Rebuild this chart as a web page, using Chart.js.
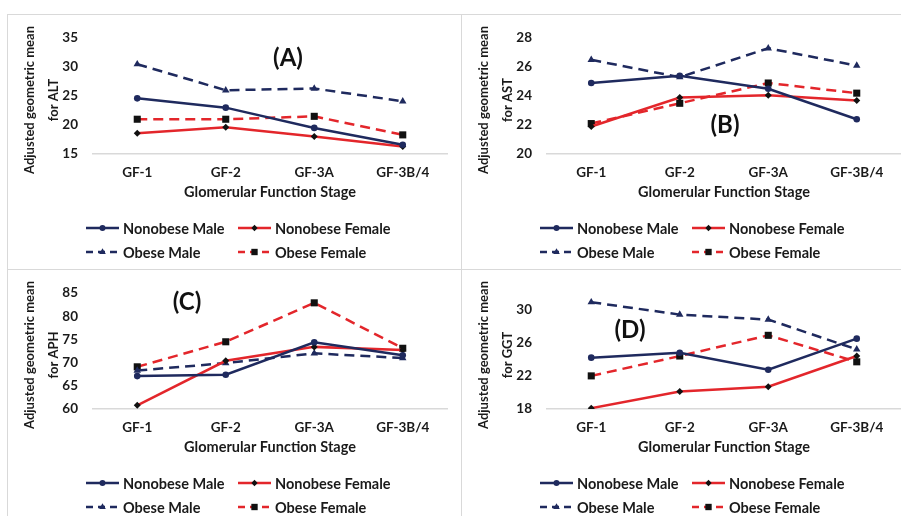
<!DOCTYPE html>
<html lang="en">

<head>
    <meta charset="UTF-8">
    <title>Adjusted geometric means by glomerular function stage</title>
    <style>
        body { margin: 0; width: 901px; height: 516px; overflow: hidden; background: #fff; position: relative; }
        .panel { position: absolute; width: 453px; height: 254px; }
        .line { position: absolute; background: #d9d9d9; }
    </style>
</head>

<body>
    <!-- light gray frame between the four panels -->
    <div class="line" style="left:7px; top:14px; width:894px; height:1px;"></div>
    <div class="line" style="left:7px; top:14px; width:1px; height:502px;"></div>
    <div class="line" style="left:461px; top:14px; width:1px; height:502px;"></div>
    <div class="line" style="left:7px; top:269px; width:894px; height:1px;"></div>

    <div class="panel" style="left:8px; top:15px;"><canvas id="altChart" width="453" height="254"></canvas></div>
    <div class="panel" style="left:462px; top:15px;"><canvas id="astChart" width="453" height="254"></canvas></div>
    <div class="panel" style="left:8px; top:270px;"><canvas id="aphChart" width="453" height="254"></canvas></div>
    <div class="panel" style="left:462px; top:270px;"><canvas id="ggtChart" width="453" height="254"></canvas></div>

    <script src="https://cdn.jsdelivr.net/npm/chart.js"></script>
    <script>
        // categories and series names
        const stages = ['GF-1', 'GF-2', 'GF-3A', 'GF-3B/4'];
        const seriesNames = ['Nonobese Male', 'Nonobese Female', 'Obese Male', 'Obese Female'];

        // (A) ALT
        const altNonobeseMale = [24.6, 23.0, 19.5, 16.6];
        const altNonobeseFemale = [18.6, 19.6, 18.0, 16.3];
        const altObeseMale = [30.5, 26.0, 26.3, 24.1];
        const altObeseFemale = [21.0, 21.0, 21.5, 18.3];
        const altTicks = [15, 20, 25, 30, 35];

        // (B) AST
        const astNonobeseMale = [24.9, 25.4, 24.5, 22.4];
        const astNonobeseFemale = [21.9, 23.9, 24.05, 23.7];
        const astObeseMale = [26.5, 25.3, 27.3, 26.1];
        const astObeseFemale = [22.1, 23.5, 24.9, 24.2];
        const astTicks = [20, 22, 24, 26, 28];

        // (C) APH
        const aphNonobeseMale = [67.1, 67.4, 74.4, 71.6];
        const aphNonobeseFemale = [60.8, 70.4, 73.4, 72.7];
        const aphObeseMale = [68.3, 69.9, 72.0, 71.0];
        const aphObeseFemale = [69.1, 74.5, 82.9, 73.1];
        const aphTicks = [60, 65, 70, 75, 80, 85];

        // (D) GGT
        const ggtNonobeseMale = [24.2, 24.8, 22.75, 26.5];
        const ggtNonobeseFemale = [18.1, 20.1, 20.7, 24.4];
        const ggtObeseMale = [30.9, 29.4, 28.8, 25.2];
        const ggtObeseFemale = [22.0, 24.4, 26.9, 23.7];
        const ggtTicks = [18, 22, 26, 30];

        const NAVY = '#1f2a5e';
        const RED = '#e3262b';
        const FONT = 'Lato, "Open Sans", sans-serif';
        const TEXT = '#1a1a1a';

        // look of each series (Excel style: red lines carry black markers)
        const seriesStyles = [
            { color: NAVY, dash: [], pointStyle: 'circle', radius: 3.3, marker: NAVY },
            { color: RED, dash: [], pointStyle: 'rectRot', radius: 3.5, marker: '#111' },
            { color: NAVY, dash: [10, 6], pointStyle: 'triangle', radius: 4.3, marker: NAVY },
            { color: RED, dash: [10, 6], pointStyle: 'rect', radius: 5, marker: '#111' }
        ];

        // legend in two columns, line sample with its marker
        const legendPlugin = {
            id: 'twoColLegend',
            afterDraw(chart) {
                const ctx = chart.ctx;
                const colX = [78, 230];
                const rowY = [213, 237];
                chart.data.datasets.forEach((ds, i) => {
                    const st = seriesStyles[i];
                    const x = colX[i % 2];
                    const y = rowY[Math.floor(i / 2)];
                    ctx.save();
                    ctx.strokeStyle = st.color;
                    ctx.lineWidth = 2.5;
                    ctx.setLineDash(st.dash.length ? [7, 5] : []);
                    ctx.beginPath();
                    ctx.moveTo(x, y);
                    ctx.lineTo(x + 33, y);
                    ctx.stroke();
                    ctx.setLineDash([]);
                    ctx.fillStyle = st.marker;
                    Chart.helpers.drawPoint(ctx, { pointStyle: st.pointStyle, radius: st.radius * 0.9, borderWidth: 0, rotation: 0 }, x + 16.5, y);
                    ctx.fillStyle = TEXT;
                    ctx.font = 'bold 14.5px ' + FONT;
                    ctx.textBaseline = 'middle';
                    ctx.textAlign = 'left';
                    ctx.fillText(ds.label, x + 37, y + 1);
                    ctx.restore();
                });
            }
        };

        // rotated two line y title and the panel letter
        const textPlugin = {
            id: 'panelText',
            afterDraw(chart) {
                const o = chart.options.plugins.panelText;
                const ctx = chart.ctx;
                ctx.save();
                ctx.fillStyle = TEXT;
                ctx.textAlign = 'center';
                ctx.textBaseline = 'middle';
                ctx.font = 'bold 13px ' + FONT;
                ctx.translate(0, 85);
                ctx.rotate(-Math.PI / 2);
                ctx.fillText(o.yTitle[0], 0, 22);
                ctx.fillText(o.yTitle[1], 0, 46);
                ctx.restore();

                ctx.save();
                ctx.fillStyle = '#111';
                ctx.font = 'bold 24px ' + FONT;
                ctx.textAlign = 'center';
                ctx.textBaseline = 'middle';
                ctx.fillText(o.letter, o.letterX, o.letterY);
                ctx.restore();
            }
        };

        function makePanel(id, series, tickValues, max, yTitle, letter, letterX, letterY) {
            const ctx = document.getElementById(id).getContext('2d');
            return new Chart(ctx, {
                type: 'line',
                data: {
                    labels: stages,
                    datasets: series.map((values, i) => ({
                        label: seriesNames[i],
                        data: values,
                        borderColor: seriesStyles[i].color,
                        backgroundColor: seriesStyles[i].marker,
                        borderWidth: 2.5,
                        borderDash: seriesStyles[i].dash,
                        tension: 0,
                        pointStyle: seriesStyles[i].pointStyle,
                        pointRadius: seriesStyles[i].radius,
                        pointBackgroundColor: seriesStyles[i].marker,
                        pointBorderColor: seriesStyles[i].marker,
                        pointBorderWidth: 0
                    }))
                },
                options: {
                    responsive: false,
                    animation: false,
                    layout: { padding: { top: 14, bottom: 60, left: 0, right: 14 } },
                    scales: {
                        x: {
                            offset: true,
                            grid: { display: false, drawTicks: false },
                            border: { display: true, color: '#d9d9d9', width: 1.5 },
                            ticks: { color: TEXT, padding: 11, font: { family: FONT, size: 13.5, weight: 'bold' } },
                            title: {
                                display: true,
                                text: 'Glomerular Function Stage',
                                color: TEXT,
                                padding: { top: 0, bottom: 8 },
                                font: { family: FONT, size: 14.5, weight: 'bold' }
                            },
                            afterFit: s => { s.height = 55; }
                        },
                        y: {
                            min: tickValues[0],
                            max: max,
                            grid: { display: false, drawTicks: false },
                            border: { display: false },
                            ticks: { color: TEXT, padding: 15, font: { family: FONT, size: 13.5, weight: 'bold' } },
                            afterBuildTicks: s => { s.ticks = tickValues.map(v => ({ value: v })); },
                            afterFit: s => { s.width = 85; }
                        }
                    },
                    plugins: {
                        legend: { display: false },
                        tooltip: { enabled: false },
                        panelText: { yTitle: yTitle, letter: letter, letterX: letterX, letterY: letterY }
                    }
                },
                plugins: [legendPlugin, textPlugin]
            });
        }

        makePanel('altChart', [altNonobeseMale, altNonobeseFemale, altObeseMale, altObeseFemale],
            altTicks, 35, ['Adjusted geometric mean', 'for ALT'], '(A)', 280, 43);
        makePanel('astChart', [astNonobeseMale, astNonobeseFemale, astObeseMale, astObeseFemale],
            astTicks, 28, ['Adjusted geometric mean', 'for AST'], '(B)', 263, 110);
        makePanel('aphChart', [aphNonobeseMale, aphNonobeseFemale, aphObeseMale, aphObeseFemale],
            aphTicks, 85, ['Adjusted geometric mean', 'for APH'], '(C)', 179, 32);
        makePanel('ggtChart', [ggtNonobeseMale, ggtNonobeseFemale, ggtObeseMale, ggtObeseFemale],
            ggtTicks, 32, ['Adjusted geometric mean', 'for GGT'], '(D)', 168, 60);
    </script>
</body>

</html>
